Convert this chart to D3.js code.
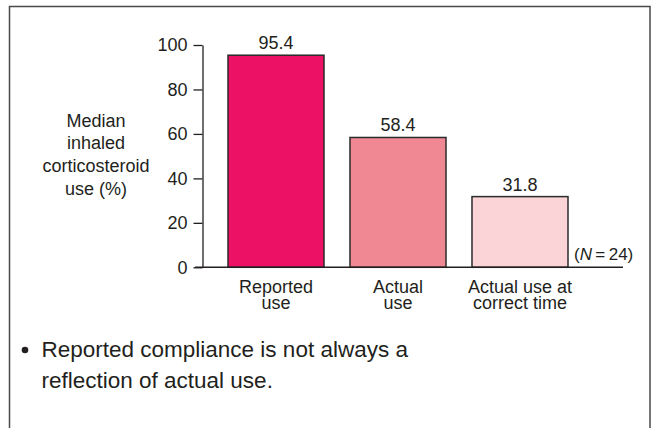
<!DOCTYPE html>
<html>
<head>
<meta charset="utf-8">
<script src="https://cdn.jsdelivr.net/npm/d3@7/dist/d3.min.js"></script>
<style>
  html, body { margin: 0; padding: 0; background: #fff; }
  svg { display: block; }
  text { font-family: "Liberation Sans", Arial, Helvetica, sans-serif; fill: #231f20; }
</style>
</head>
<body>
<svg id="chart" width="653" height="428"></svg>
<script>
// Bar data: median inhaled corticosteroid use (%)
const categories = ["Reported use", "Actual use", "Actual use at correct time"];
const categoryLines = [["Reported", "use"], ["Actual", "use"], ["Actual use at", "correct time"]];
const values = [95.4, 58.4, 31.8];
const valueLabels = ["95.4", "58.4", "31.8"];
const barColors = ["#ec1164", "#f08894", "#fad4d7"];
const yTicks = [0, 20, 40, 60, 80, 100];
const yTitle = ["Median", "inhaled", "corticosteroid", "use (%)"];
const bulletLines = ["Reported compliance is not always a", "reflection of actual use."];

const svg = d3.select("#chart");

// Framing box
svg.append("rect")
  .attr("x", 9.5).attr("y", 6.5)
  .attr("width", 640.5).attr("height", 440)
  .attr("fill", "none").attr("stroke", "#4a4a4a").attr("stroke-width", 1.5);

const y = d3.scaleLinear().domain([0, 100]).range([267.3, 45]);
const x = d3.scaleBand().domain(categories)
  .range([203.6, 592.4]).paddingInner(0.213).paddingOuter(0.2);

// Y axis
const yAxis = svg.append("g")
  .attr("transform", "translate(202.5,0)")
  .call(d3.axisLeft(y).tickValues(yTicks).tickSize(9).tickSizeOuter(0).tickPadding(6));
yAxis.select(".domain").attr("stroke", "#231f20").attr("stroke-width", 1.3);
yAxis.selectAll(".tick line").attr("stroke", "#231f20").attr("stroke-width", 1.3);
yAxis.selectAll(".tick text")
  .attr("font-size", 18).attr("fill", "#231f20")
  .style("font-family", "'Liberation Sans', Arial, sans-serif");

// Bars
svg.append("g").selectAll("rect")
  .data(values)
  .join("rect")
  .attr("x", (d, i) => x(categories[i]))
  .attr("y", d => y(d))
  .attr("width", x.bandwidth())
  .attr("height", d => y(0) - y(d))
  .attr("fill", (d, i) => barColors[i])
  .attr("stroke", "#2b2b2b")
  .attr("stroke-width", 1.5);

// Baseline
svg.append("line")
  .attr("x1", 195).attr("x2", 623)
  .attr("y1", y(0)).attr("y2", y(0))
  .attr("stroke", "#231f20").attr("stroke-width", 1.5);

// Value labels
svg.append("g").selectAll("text")
  .data(values)
  .join("text")
  .attr("x", (d, i) => x(categories[i]) + x.bandwidth() / 2)
  .attr("y", d => y(d) - 6)
  .attr("text-anchor", "middle")
  .attr("font-size", 18)
  .text((d, i) => valueLabels[i]);

// Category labels (two tight lines each)
const catG = svg.append("g").selectAll("text")
  .data(categoryLines)
  .join("text")
  .attr("text-anchor", "middle")
  .attr("font-size", 18);
catG.each(function(lines, i) {
  const cx = x(categories[i]) + x.bandwidth() / 2;
  d3.select(this).selectAll("tspan")
    .data(lines)
    .join("tspan")
    .attr("x", cx)
    .attr("y", (l, j) => 293 + j * 15.5)
    .text(l => l);
});

// Sample size note
const nNote = svg.append("text")
  .attr("x", 574).attr("y", 260)
  .attr("font-size", 17);
nNote.append("tspan").text("(");
nNote.append("tspan").attr("font-style", "italic").text("N");
nNote.append("tspan").text("\u2009=\u200924)");

// Y title
svg.append("g").selectAll("text")
  .data(yTitle)
  .join("text")
  .attr("x", 96)
  .attr("y", (d, i) => 126.7 + i * 22.7)
  .attr("text-anchor", "middle")
  .attr("font-size", 18)
  .text(d => d);

// Bullet note
svg.append("circle")
  .attr("cx", 25).attr("cy", 350).attr("r", 3.3)
  .attr("fill", "#231f20");
svg.append("g").selectAll("text")
  .data(bulletLines)
  .join("text")
  .attr("x", 41.5)
  .attr("y", (d, i) => 357 + i * 31)
  .attr("font-size", 22.5)
  .text(d => d);
</script>
</body>
</html>
